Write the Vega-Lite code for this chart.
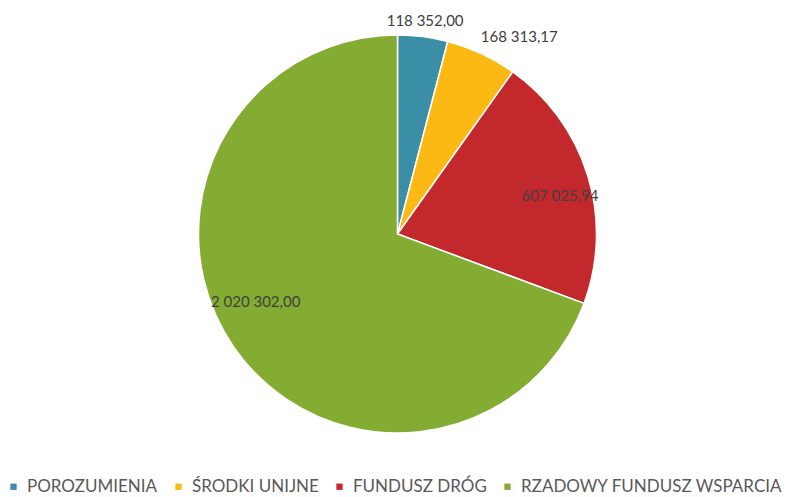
{
  "$schema": "https://vega.github.io/schema/vega-lite/v6.json",
  "autosize": {"type": "fit", "contains": "padding"},
  "width": 795,
  "height": 497,
  "padding": {"left": 5, "right": 5, "top": 0, "bottom": 2},
  "background": "white",
  "config": {"view": {"stroke": null}, "font": "Lato"},
  "data": {
    "values": [
      {"idx": 1, "kategoria": "POROZUMIENIA", "wartosc": 118352.00, "etykieta": "118 352,00"},
      {"idx": 2, "kategoria": "ŚRODKI UNIJNE", "wartosc": 168313.17, "etykieta": "168 313,17"},
      {"idx": 3, "kategoria": "FUNDUSZ DRÓG", "wartosc": 607025.94, "etykieta": "607 025,94"},
      {"idx": 4, "kategoria": "RZADOWY FUNDUSZ WSPARCIA", "wartosc": 2020302.00, "etykieta": "2 020 302,00"}
    ]
  },
  "encoding": {
    "theta": {"field": "wartosc", "type": "quantitative", "stack": true},
    "order": {"field": "idx", "type": "quantitative"}
  },
  "layer": [
    {
      "mark": {"type": "arc", "outerRadius": 199, "stroke": "white", "strokeWidth": 1.5},
      "encoding": {
        "color": {
          "field": "kategoria",
          "type": "nominal",
          "sort": ["POROZUMIENIA", "ŚRODKI UNIJNE", "FUNDUSZ DRÓG", "RZADOWY FUNDUSZ WSPARCIA"],
          "scale": {
            "domain": ["POROZUMIENIA", "ŚRODKI UNIJNE", "FUNDUSZ DRÓG", "RZADOWY FUNDUSZ WSPARCIA"],
            "range": ["#3A8FA6", "#FDB913", "#C3282D", "#84AC32"]
          },
          "legend": {
            "title": null,
            "orient": "bottom",
            "direction": "horizontal",
            "symbolType": "square",
            "symbolSize": 40,
            "symbolStrokeWidth": 0,
            "labelFontSize": 17,
            "labelColor": "#595959",
            "labelFont": "Lato",
            "labelLimit": 500,
            "columnPadding": 12,
            "labelOffset": 5,
            "offset": 10
          }
        }
      }
    },
    {
      "mark": {"type": "text", "radius": 217, "fontSize": 15, "color": "#404040", "dy": 2},
      "encoding": {
        "text": {"condition": {"test": "datum.idx == 1", "field": "etykieta"}, "value": ""}
      }
    },
    {
      "mark": {"type": "text", "radius": 217, "fontSize": 15, "color": "#404040", "dx": 30},
      "encoding": {
        "text": {"condition": {"test": "datum.idx == 2", "field": "etykieta"}, "value": ""}
      }
    },
    {
      "mark": {"type": "text", "radius": 170, "fontSize": 15, "color": "#404040", "dy": 12},
      "encoding": {
        "text": {"condition": {"test": "datum.idx == 3", "field": "etykieta"}, "value": ""}
      }
    },
    {
      "mark": {"type": "text", "radius": 163, "fontSize": 15, "color": "#404040", "dx": -8, "dy": -25},
      "encoding": {
        "text": {"condition": {"test": "datum.idx == 4", "field": "etykieta"}, "value": ""}
      }
    }
  ]
}
